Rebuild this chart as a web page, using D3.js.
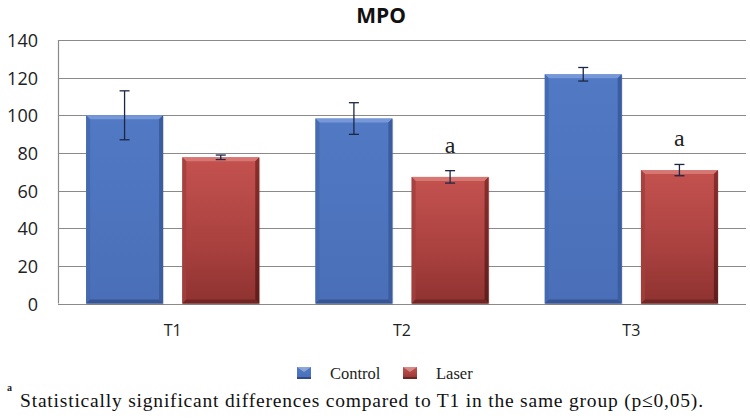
<!DOCTYPE html>
<html><head><meta charset="utf-8">
<script src="https://cdn.jsdelivr.net/npm/d3@7"></script>
<style>body{margin:0;background:#fff}svg{display:block}
.serif{font-family:'Liberation Serif','Times New Roman',serif}
.sans{font-family:'Open Sans','Noto Sans',sans-serif}
</style>
</head><body>
<svg id="c" width="750" height="418"></svg>
<script>
const categories = ["T1","T2","T3"];
const seriesNames = ["Control","Laser"];
const controlValues = [100, 98.3, 121.8];
const controlErrors = [13, 8.4, 3.6];
const laserValues = [77.7, 67.3, 70.9];
const laserErrors = [1.2, 3.3, 3.0];
const laserMarks = ["", "a", "a"];
const yTicks = [0,20,40,60,80,100,120,140];
const title = "MPO";
const footnote = "Statistically significant differences compared to T1 in the same group (p\u22640,05).";

(function(){
const svg = d3.select("#c");
const pLeft = 58, pRight = 746, pTop = 40, pBottom = 303.6;

const x0 = d3.scaleBand().domain(categories).range([pLeft, pRight]).paddingInner(0.245).paddingOuter(0.1225);
const x1 = d3.scaleBand().domain(seriesNames).range([0, x0.bandwidth()]).paddingInner(0.2).paddingOuter(0);
const y = d3.scaleLinear().domain([0,140]).range([pBottom, pTop]);

const defs = svg.append("defs");
function grad(id, stops, vertical) {
  const g = defs.append("linearGradient").attr("id", id)
    .attr("x1", 0).attr("y1", 0).attr("x2", vertical ? 0 : 1).attr("y2", vertical ? 1 : 0);
  stops.forEach(s => g.append("stop").attr("offset", s[0]).attr("stop-color", s[1]));
}
grad("blueBody", [[0,"#5179c4"],[1,"#4a6fb8"]], true);
grad("redBody", [[0,"#c4524f"],[0.6,"#a9413f"],[1,"#8e3230"]], true);
grad("blueSide", [[0,"#3b5c9e"],[1,"#3b5c9e"]], true);
grad("redSide", [[0,"#8a2f2d"],[1,"#5e1d1c"]], true);

svg.append("g").selectAll("line").data(yTicks).join("line")
  .attr("x1", pLeft).attr("x2", pRight)
  .attr("y1", d => Math.round(y(d)) + 0.5).attr("y2", d => Math.round(y(d)) + 0.5)
  .attr("stroke", "#8a8a8a").attr("stroke-width", 1.2);
svg.append("line").attr("x1", pLeft + 0.5).attr("x2", pLeft + 0.5)
  .attr("y1", y(140)).attr("y2", y(0)).attr("stroke", "#8a8a8a").attr("stroke-width", 1.2);

const yAxis = d3.axisLeft(y).tickValues(yTicks).tickSize(0).tickPadding(0);
const ya = svg.append("g").attr("transform", `translate(38,0)`).call(yAxis);
ya.select(".domain").remove();
ya.attr("font-family", null).attr("font-size", null);
ya.selectAll("text").attr("class", "sans").style("font-size", "18px").attr("fill", "#222").attr("dy", "0.36em");

const xAxis = d3.axisBottom(x0).tickSize(0).tickPadding(0);
const xa = svg.append("g").attr("transform", `translate(0,324)`).call(xAxis);
xa.select(".domain").remove();
xa.attr("font-family", null).attr("font-size", null);
xa.selectAll("text").attr("class", "sans").style("font-size", "16px").attr("fill", "#222").attr("dy", "0.72em");

const rows = categories.map((c, i) => ({
  cat: c,
  bars: [
    {s: "Control", v: controlValues[i], e: controlErrors[i], mark: ""},
    {s: "Laser", v: laserValues[i], e: laserErrors[i], mark: laserMarks[i]}
  ]
}));

const bw = x1.bandwidth();
const bev = 4;
const gBars = svg.append("g");
rows.forEach(r => {
  r.bars.forEach(b => {
    const bx = x0(r.cat) + x1(b.s);
    const by = y(b.v), bh = y(0) - y(b.v);
    const isBlue = b.s === "Control";
    const g = gBars.append("g");
    g.append("rect").attr("x", bx + 1).attr("y", by + 1).attr("width", bw).attr("height", bh)
      .attr("fill", "#000").attr("opacity", 0.12);
    g.append("rect").attr("x", bx).attr("y", by).attr("width", bw).attr("height", bh)
      .attr("fill", isBlue ? "url(#blueBody)" : "url(#redBody)");
    g.append("path").attr("d", `M${bx},${by}L${bx+bw},${by}L${bx+bw-bev},${by+bev}L${bx+bev},${by+bev}Z`)
      .attr("fill", isBlue ? "#7a9bdc" : "#d97b78").attr("opacity", 0.9);
    g.append("path").attr("d", `M${bx},${by}L${bx+bev},${by+bev}L${bx+bev},${by+bh-bev}L${bx},${by+bh}Z`)
      .attr("fill", isBlue ? "#4468ae" : "#a13f3d").attr("opacity", 0.85);
    g.append("path").attr("d", `M${bx+bw},${by}L${bx+bw-bev},${by+bev}L${bx+bw-bev},${by+bh-bev}L${bx+bw},${by+bh}Z`)
      .attr("fill", isBlue ? "url(#blueSide)" : "url(#redSide)");
    g.append("path").attr("d", `M${bx},${by+bh}L${bx+bev},${by+bh-bev}L${bx+bw-bev},${by+bh-bev}L${bx+bw},${by+bh}Z`)
      .attr("fill", isBlue ? "#34528e" : "#6e2523").attr("opacity", 0.9);
    const cx = bx + bw / 2;
    const eg = g.append("g").attr("stroke", "#1d2744").attr("stroke-width", 1.3);
    eg.append("line").attr("x1", cx).attr("x2", cx).attr("y1", y(b.v + b.e)).attr("y2", y(b.v - b.e));
    eg.append("line").attr("x1", cx - 5).attr("x2", cx + 5).attr("y1", y(b.v + b.e)).attr("y2", y(b.v + b.e));
    eg.append("line").attr("x1", cx - 5).attr("x2", cx + 5).attr("y1", y(b.v - b.e)).attr("y2", y(b.v - b.e));
    if (b.mark) {
      g.append("text").attr("x", cx).attr("y", y(b.v + b.e) - 18)
        .attr("text-anchor", "middle").attr("class", "serif")
        .style("font-size", "24px").attr("fill", "#222").text(b.mark);
    }
  });
});

svg.append("text").attr("x", 381).attr("y", 23).attr("text-anchor", "middle")
  .attr("class", "sans").style("font-weight", "bold").style("font-size", "21px")
  .attr("fill", "#111").text(title);

const legend = [
  {name: seriesNames[0], x: 297, fill: "url(#blueBody)", edge: "#2f4b86"},
  {name: seriesNames[1], x: 403, fill: "url(#redBody)", edge: "#6e2523"}
];
const lg = svg.append("g");
legend.forEach(l => {
  lg.append("rect").attr("x", l.x).attr("y", 367).attr("width", 14).attr("height", 12).attr("fill", l.fill);
  lg.append("path").attr("d", `M${l.x},367L${l.x+7},372L${l.x+14},367Z`).attr("fill", "#ffffff").attr("opacity", 0.35);
  lg.append("rect").attr("x", l.x).attr("y", 377).attr("width", 14).attr("height", 2).attr("fill", l.edge);
  lg.append("text").attr("x", l.x + 33).attr("y", 378.5)
    .attr("class", "serif").style("font-size", "16.5px")
    .attr("fill", "#222").text(l.name);
});

svg.append("text").attr("x", 7).attr("y", 391).attr("class", "serif")
  .style("font-size", "10px").style("font-weight", "bold").attr("fill", "#222").text("a");
svg.append("text").attr("x", 20).attr("y", 407).attr("class", "serif")
  .style("font-size", "19.5px").attr("fill", "#111")
  .attr("textLength", 683).attr("lengthAdjust", "spacing").text(footnote);
})();
</script>
</body></html>
